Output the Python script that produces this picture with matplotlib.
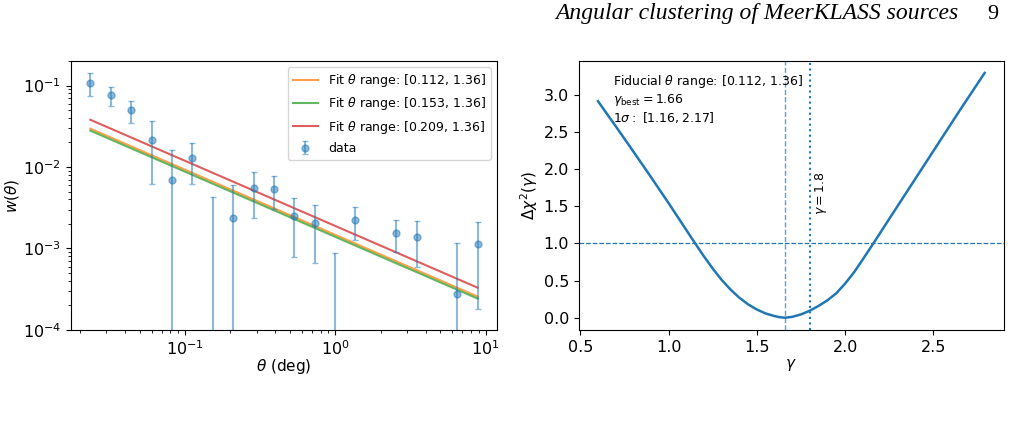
import numpy as np
import matplotlib
matplotlib.use("Agg")
import matplotlib.pyplot as plt

# ---------------- data ----------------
theta = [0.0235, 0.0321, 0.0439, 0.0600, 0.0820, 0.112, 0.153, 0.209, 0.286, 0.390,
         0.533, 0.729, 0.996, 1.36, 1.86, 2.54, 3.47, 4.74, 6.48, 8.85]
w_theta = [0.108, 0.0755, 0.0494, 0.0212, 0.0070, 0.0129, -0.0015, 0.00238, 0.00553, 0.00543,
           0.00249, 0.00206, -0.0005, 0.00226, -0.0012, 0.00157, 0.00139, -0.0008, 0.000276, 0.00115]
w_err = [0.033, 0.020, 0.0144, 0.0150, 0.0093, 0.0067, 0.0058, 0.0036, 0.00316, 0.0024,
         0.0017, 0.0014, 0.00137, 0.0010, 0.0009, 0.00066, 0.0008, 0.0006, 0.00089, 0.00097]

fit_labels = [r"Fit $\theta$ range: [0.112, 1.36]",
              r"Fit $\theta$ range: [0.153, 1.36]",
              r"Fit $\theta$ range: [0.209, 1.36]"]
fit_amp = [0.00147, 0.00139, 0.00189]   # w at theta = 1 deg
fit_gamma = [1.8, 1.8, 1.8]
fit_colors = ["C1", "C2", "C3"]

gamma_grid = [0.60, 0.70, 0.80, 0.90, 1.00, 1.075, 1.15, 1.20, 1.25, 1.30, 1.35, 1.40,
              1.45, 1.50, 1.55, 1.60, 1.63, 1.66, 1.70, 1.75, 1.80, 1.85, 1.90, 1.95,
              2.00, 2.05, 2.10, 2.16, 2.25, 2.35, 2.45, 2.55, 2.65, 2.79]
delta_chi2 = [2.91, 2.575, 2.235, 1.89, 1.54, 1.27, 1.0, 0.825, 0.66, 0.51, 0.38, 0.27,
              0.18, 0.11, 0.057, 0.022, 0.007, 0.0, 0.012, 0.045, 0.095, 0.16, 0.235, 0.33,
              0.46, 0.61, 0.785, 1.0, 1.33, 1.695, 2.06, 2.425, 2.79, 3.29]

gamma_best = 1.66
gamma_ref = 1.8
sigma_range = [1.16, 2.17]

# ---------------- figure ----------------
fig = plt.figure(figsize=(10.17, 4.23), dpi=100)
ax1 = fig.add_axes([0.0698, 0.2199, 0.4189, 0.6359])
ax2 = fig.add_axes([0.5690, 0.2199, 0.4182, 0.6366])

th = np.array(theta)
for A, g, c, lab in zip(fit_amp, fit_gamma, fit_colors, fit_labels):
    ax1.plot(th, A * th ** (1 - g), color=c, lw=1.5, alpha=0.75, label=lab)
ax1.errorbar(theta, w_theta, yerr=w_err, fmt="o", color="C0", alpha=0.5,
             ms=5, capsize=2, elinewidth=1.5, label="data")
ax1.set_xscale("log")
ax1.set_yscale("log")
ax1.set_ylim(1e-4, 0.2)
ax1.tick_params(labelsize=11.5)
ax1.set_xlabel(r"$\theta$ (deg)", fontsize=11)
ax1.set_ylabel(r"$w(\theta)$", fontsize=11)
ax1.xaxis.set_label_coords(0.5, -0.10)
ax1.yaxis.set_label_coords(-0.117, 0.5)
ax1.legend(loc="upper right", fontsize=9)

ax2.plot(gamma_grid, delta_chi2, color="C0", lw=1.8)
ax2.axhline(1.0, color="C0", ls="--", lw=0.9)
ax2.axvline(gamma_best, color="C0", ls="--", lw=1.0, alpha=0.7)
ax2.axvline(gamma_ref, color="C0", ls=":", lw=1.5)
ax2.text(gamma_ref + 0.02, 1.38, r"$\gamma = 1.8$", rotation=90, fontsize=9,
         va="bottom", ha="left")
ax2.text(0.08, 0.955,
         "Fiducial $\\theta$ range: [0.112, 1.36]\n"
         + r"$\gamma_{\rm best} = %.2f$" % gamma_best + "\n"
         + r"$1\sigma:\ [%.2f, %.2f]$" % (sigma_range[0], sigma_range[1]),
         transform=ax2.transAxes, va="top", ha="left", fontsize=9)
ax2.tick_params(labelsize=11.5)
ax2.set_xlabel(r"$\gamma$", fontsize=11)
ax2.set_ylabel(r"$\Delta\chi^2(\gamma)$", fontsize=11)
ax2.xaxis.set_label_coords(0.5, -0.10)
ax2.yaxis.set_label_coords(-0.091, 0.5)

fig.text(0.5464, 0.955, "Angular clustering of MeerKLASS sources",
         family="Liberation Serif", style="italic", fontsize=17, va="baseline")
fig.text(0.9705, 0.955, "9", family="Liberation Serif", fontsize=16, va="baseline")

fig.savefig("out.png", dpi=100)
